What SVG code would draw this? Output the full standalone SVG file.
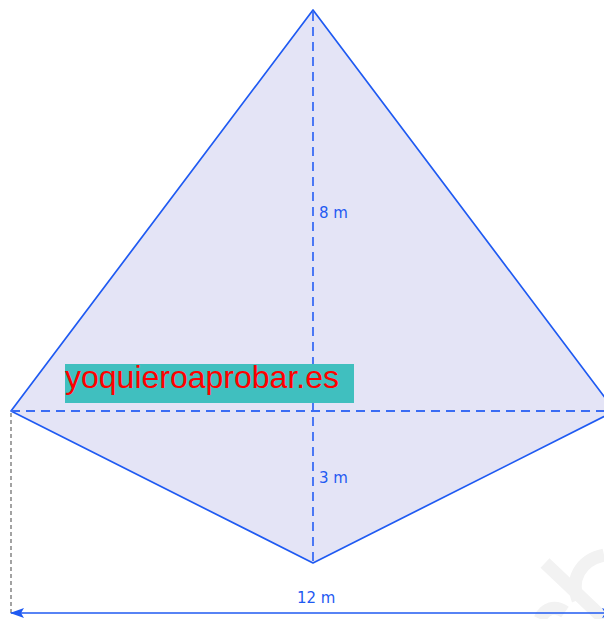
<svg xmlns="http://www.w3.org/2000/svg" width="604" height="619" viewBox="0 0 604 619">
<style>
.edge{fill:none;stroke:#1f5af2;stroke-width:1.7;stroke-linejoin:round}
.dash{fill:none;stroke:#3a6cf4;stroke-width:1.8;stroke-dasharray:9 6}
.lbl{font-family:"DejaVu Sans","Liberation Sans",sans-serif;font-size:15px;fill:#1f5af2}
</style>
<defs>
<marker id="ah" viewBox="0 0 14 10" refX="13" refY="5" markerWidth="14" markerHeight="10" markerUnits="userSpaceOnUse" orient="auto-start-reverse">
<path d="M0,0 L14,5 L0,10 L3,5 Z" fill="#1f5af2"/>
</marker>
</defs>
<rect width="604" height="619" fill="#ffffff"/>
<g id="watermark" fill="none" stroke="#f2f2f2" stroke-width="13">
<line x1="545" y1="563" x2="604" y2="619"/>
<path d="M578,600 C570,580 580,560 604,555"/>
<path d="M540,619 C545,608 555,605 565,612"/>
</g>
<g id="kite">
<polygon points="313,10 615,411 313,563 11,411" fill="#e4e4f6" stroke="none"/>
<polygon points="313,10 615,411 313,563 11,411" class="edge"/>
</g>
<g id="connectors">
<line x1="11" y1="411" x2="615" y2="411" class="dash"/>
<line x1="313" y1="12" x2="313" y2="563" class="dash"/>
<line x1="11" y1="413" x2="11" y2="613" stroke="#666666" stroke-width="1.2" stroke-dasharray="4 3"/>
<line x1="11" y1="613" x2="615" y2="613" stroke="#1f5af2" stroke-width="1.7" marker-start="url(#ah)" marker-end="url(#ah)"/>
</g>
<g id="labels">
<text x="319" y="218" class="lbl">8 m</text>
<text x="319" y="483" class="lbl">3 m</text>
<text x="297" y="603" class="lbl">12 m</text>
</g>
<g id="banner">
<rect x="65" y="364" width="289" height="39" fill="#40bfbf"/>
<text x="65" y="388" font-family="'Liberation Sans',Arial,sans-serif" font-size="32" fill="#ff0000">yoquieroaprobar.es</text>
</g>
</svg>
